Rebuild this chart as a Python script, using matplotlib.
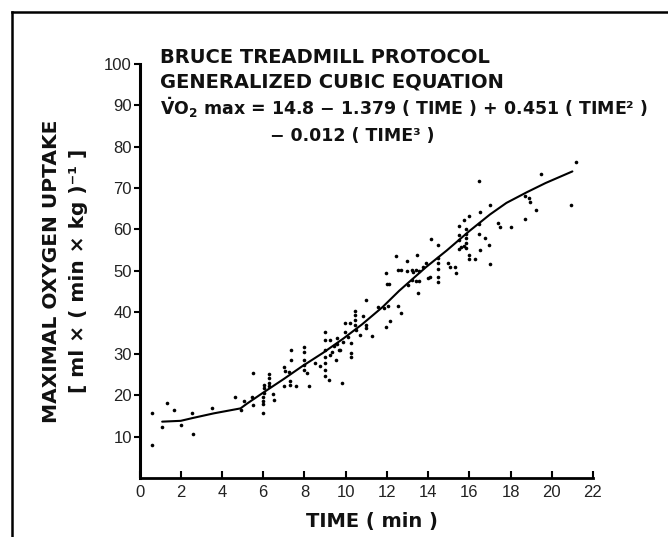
import matplotlib
matplotlib.use('Agg')
import matplotlib.pyplot as plt
from matplotlib.lines import Line2D

# scatter points (time in min, VO2 max)
time_pts = [0.59, 0.62, 1.07, 1.35, 1.69, 2.00, 2.56, 2.59, 3.53, 4.63,
            4.92, 5.05, 5.51, 5.48, 5.50, 5.98, 6.00, 6.00, 6.00, 6.02,
            6.05, 6.05, 6.27, 6.27, 6.27, 6.27, 6.50, 6.52, 7.00, 7.05,
            7.00, 7.26, 7.30, 7.30, 7.57, 7.37, 7.37, 7.97, 7.97, 8.00,
            8.00, 7.97, 8.13, 8.20, 8.50, 8.78, 9.00, 9.00, 9.00, 9.02,
            9.00, 9.00, 9.02, 9.20, 9.25, 9.25, 9.35, 9.42, 9.52, 9.58,
            9.60, 9.70, 9.75, 9.80, 9.88, 9.96, 9.96, 10.10, 10.23, 10.25,
            10.28, 10.28, 10.46, 10.46, 10.46, 10.46, 10.50, 10.70, 10.85, 10.97,
            11.00, 11.00, 11.30, 11.55, 11.85, 11.98, 12.00, 12.10, 12.05, 11.98,
            12.15, 12.46, 12.55, 12.70, 12.55, 12.70, 12.98, 13.00, 13.02, 13.20,
            13.25, 13.40, 13.55, 13.20, 13.40, 13.55, 13.46, 13.50, 13.75, 13.90,
            14.00, 14.16, 14.10, 14.48, 14.48, 14.48, 14.48, 14.48, 14.48, 14.96,
            15.04, 15.30, 15.35, 15.48, 15.50, 15.50, 15.50, 15.60, 15.72, 15.75,
            15.85, 15.85, 15.85, 15.85, 15.85, 16.00, 16.00, 16.00, 16.27, 16.46,
            16.50, 16.46, 16.46, 16.50, 16.76, 16.98, 16.96, 16.98, 17.40, 17.50,
            18.00, 18.70, 18.90, 18.92, 18.68, 19.24, 19.49, 20.92, 21.18]
vo2_pts = [15.6, 8.0, 12.4, 18.2, 16.3, 12.8, 15.6, 10.5, 16.8, 19.5,
           16.4, 18.6, 25.4, 19.5, 17.6, 15.6, 17.9, 18.6, 19.6, 20.5,
           21.7, 22.4, 25.1, 24.2, 23.0, 22.1, 20.2, 18.8, 26.7, 25.9,
           22.2, 25.7, 23.3, 22.5, 22.2, 30.9, 28.5, 31.6, 30.4, 28.5,
           27.3, 26.1, 25.4, 22.1, 27.7, 27.1, 35.3, 33.3, 30.9, 29.3,
           27.7, 26.1, 24.6, 23.7, 33.3, 29.7, 30.5, 31.9, 28.5, 33.7,
           32.3, 31.0, 30.8, 22.9, 32.9, 37.4, 35.3, 34.0, 37.4, 32.5,
           30.1, 29.3, 40.2, 39.4, 38.1, 37.0, 35.7, 34.5, 39.1, 43.0,
           37.0, 36.2, 34.3, 41.3, 41.0, 49.5, 46.9, 46.9, 41.4, 36.4,
           38.0, 53.5, 50.2, 50.2, 41.4, 39.8, 52.4, 50.0, 46.6, 50.3,
           49.7, 50.2, 50.0, 47.9, 47.5, 47.5, 53.9, 44.6, 51.0, 51.8,
           48.2, 57.8, 48.5, 56.3, 53.0, 51.8, 50.4, 48.6, 47.4, 52.0,
           51.0, 51.0, 49.6, 60.8, 58.6, 57.5, 55.2, 55.8, 62.2, 56.0,
           55.5, 60.0, 59.0, 58.0, 56.8, 63.3, 53.8, 52.8, 52.9, 71.7,
           64.1, 61.3, 59.0, 55.0, 57.9, 65.9, 56.3, 51.7, 61.5, 60.7,
           60.6, 68.0, 67.5, 66.7, 62.5, 64.7, 73.4, 65.8, 76.2]

# fitted curve as drawn
fit_time = [1.1, 2.0, 2.6, 3.6, 4.9, 5.2, 6.0, 7.0, 7.9, 8.9, 9.9,
            10.8, 11.8, 12.6, 13.9, 14.9, 16.0, 17.0, 17.8, 18.8, 19.7, 21.0]
fit_vo2 = [13.6, 13.8, 14.5, 15.6, 16.8, 17.9, 20.6, 23.9, 27.0, 30.2, 33.7,
           37.1, 41.3, 45.2, 50.9, 54.9, 59.6, 63.6, 66.4, 69.0, 71.2, 74.0]

xticks = list(range(0, 23, 2))
yticks = list(range(10, 101, 10))

fig = plt.figure(figsize=(6.68, 5.37), dpi=100)
ax = fig.add_axes([139.5 / 668, 1 - 478 / 537, (593 - 139.5) / 668, (478 - 63.7) / 537])

ax.plot(fit_time, fit_vo2, color='black', lw=1.5, solid_capstyle='round')
ax.plot(time_pts, vo2_pts, 'o', color='black', ms=2.6, mew=0)

ax.set_xlim(0, 22)
ax.set_ylim(0, 100)
ax.spines['top'].set_visible(False)
ax.spines['right'].set_visible(False)
ax.spines['left'].set_linewidth(2.2)
ax.spines['bottom'].set_linewidth(2.0)
ax.spines['left'].set_capstyle('projecting')
ax.spines['bottom'].set_capstyle('projecting')

ax.set_xticks(xticks)
ax.set_yticks(yticks)
ax.tick_params(axis='x', direction='in', length=5, width=1.5, pad=5,
               labelsize=12, labelcolor='#222222')
ax.tick_params(axis='y', direction='out', length=4, width=1.5, pad=1.5,
               labelsize=12, labelcolor='#222222')
for lab in ax.get_xticklabels() + ax.get_yticklabels():
    lab.set_family('Liberation Sans')

bold = dict(family=['DejaVu Sans'], weight='bold', color='#111111')
plt.rcParams['mathtext.fontset'] = 'custom'
plt.rcParams['mathtext.rm'] = 'DejaVu Sans:bold'
plt.rcParams['mathtext.it'] = 'DejaVu Sans:bold'
plt.rcParams['mathtext.bf'] = 'DejaVu Sans:bold'

tx = 160 / 668
fig.text(tx, 1 - 57 / 537, 'BRUCE TREADMILL PROTOCOL', fontsize=14, va='center', **bold)
fig.text(tx, 1 - 82 / 537, 'GENERALIZED CUBIC EQUATION', fontsize=14, va='center', **bold)
fig.text(tx, 1 - 108 / 537,
         r'$\dot{\mathrm{V}}$O$_2$ max = 14.8 − 1.379 ( TIME ) + 0.451 ( TIME² )',
         fontsize=12.5, va='center', **bold)
fig.text(270 / 668, 1 - 136 / 537, '− 0.012 ( TIME³ )', fontsize=12.5, va='center', **bold)

fig.text(52 / 668, 1 - 271 / 537, 'MAXIMAL OXYGEN UPTAKE', rotation=90,
         fontsize=14.5, ha='center', va='center', **bold)
fig.text(78 / 668, 1 - 271 / 537, '[ ml × ( min × kg )⁻¹ ]', rotation=90,
         fontsize=14.5, ha='center', va='center', **bold)
fig.text(372 / 668, 1 - 521 / 537, 'TIME ( min )', fontsize=14,
         ha='center', va='center', **bold)

# page frame
fig.add_artist(Line2D([12.5 / 668, 12.5 / 668], [0, 1 - 12 / 537], color='black', lw=1.8))
fig.add_artist(Line2D([12 / 668, 1], [1 - 12 / 537, 1 - 12 / 537], color='black', lw=1.8))

fig.savefig('out.png', dpi=100)
plt.close(fig)
